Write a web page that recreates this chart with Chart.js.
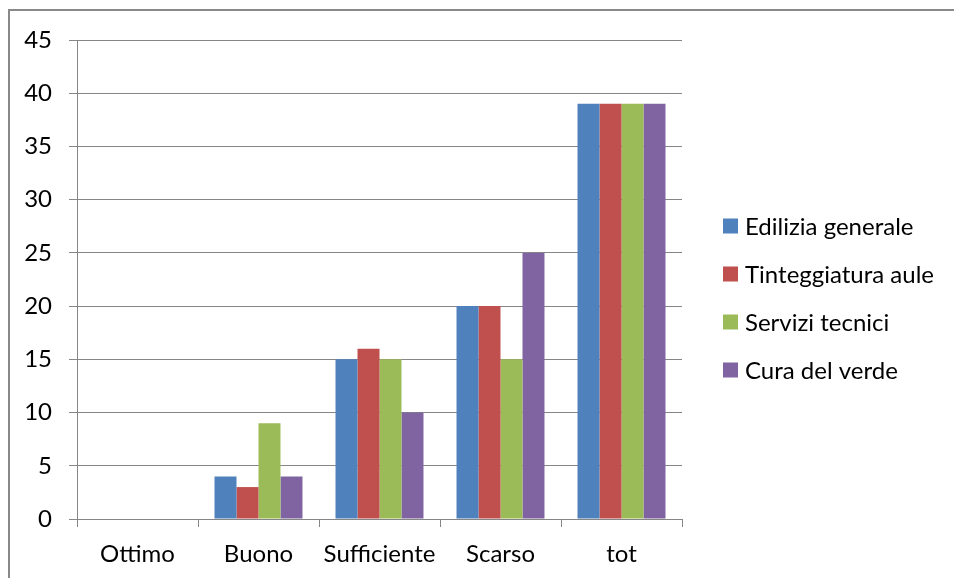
<!DOCTYPE html>
<html>
<head>
<meta charset="utf-8">
<script src="https://cdn.jsdelivr.net/npm/chart.js@4/dist/chart.umd.min.js"></script>
<style>
  html, body { margin: 0; padding: 0; background: #fff; }
  #wrap { width: 954px; height: 578px; position: relative; }
</style>
</head>
<body>
<div id="wrap"><canvas id="chart" width="954" height="578"></canvas></div>
<script>
const categories = ["Ottimo", "Buono", "Sufficiente", "Scarso", "tot"];
const seriesNames = ["Edilizia generale", "Tinteggiatura aule", "Servizi tecnici", "Cura del verde"];
const edilizia = [0, 4, 15, 20, 39];
const tinteggiatura = [0, 3, 16, 20, 39];
const servizi = [0, 9, 15, 15, 39];
const verde = [0, 4, 10, 25, 39];
const colors = ["#4F81BD", "#C0504D", "#9BBB59", "#8064A2"];

const gridColor = "#868686";
const font = { family: "Lato", size: 24 };

// outer frame like the office chart border
const framePlugin = {
  id: "frame",
  beforeDraw(chart) {
    const ctx = chart.ctx;
    ctx.save();
    ctx.fillStyle = "#fff";
    ctx.fillRect(0, 0, chart.width, chart.height);
    ctx.strokeStyle = "#898989";
    ctx.lineWidth = 2;
    ctx.strokeRect(9, 10, 2000, 2000);
    ctx.restore();
  }
};

// legend on the right, drawn by hand so it sits where the original one is
const sideLegend = {
  id: "sideLegend",
  afterDraw(chart) {
    const ctx = chart.ctx;
    const area = chart.chartArea;
    ctx.save();
    ctx.font = font.size + "px " + font.family;
    ctx.textBaseline = "middle";
    ctx.fillStyle = "#000";
    chart.data.datasets.forEach((ds, i) => {
      const y = 226 + i * 48;
      const x = area.right + 41;
      ctx.fillStyle = ds.backgroundColor;
      ctx.fillRect(x, y - 7.5, 15, 15);
      ctx.fillStyle = "#000";
      ctx.fillText(ds.label, x + 22, y + 1);
    });
    ctx.restore();
  }
};

const values = [edilizia, tinteggiatura, servizi, verde];

new Chart(document.getElementById("chart").getContext("2d"), {
  type: "bar",
  data: {
    labels: categories,
    datasets: seriesNames.map((name, i) => ({
      label: name,
      data: values[i],
      backgroundColor: colors[i],
      borderWidth: 0,
      categoryPercentage: 0.727,
      barPercentage: 1
    }))
  },
  options: {
    responsive: false,
    animation: false,
    layout: { padding: { left: 0, top: 40, right: 272, bottom: 0 } },
    plugins: {
      legend: { display: false },
      tooltip: { enabled: false }
    },
    scales: {
      x: {
        grid: {
          drawOnChartArea: false,
          drawTicks: true,
          tickLength: 8,
          color: gridColor,
          lineWidth: 1
        },
        border: { color: gridColor, width: 1 },
        ticks: { color: "#000", font, padding: 13, maxRotation: 0 },
        afterFit(scale) { scale.height = 59; }
      },
      y: {
        min: 0,
        max: 45,
        ticks: { stepSize: 5, color: "#000", font, padding: 17 },
        grid: { color: gridColor, lineWidth: 1, tickLength: 8 },
        border: { color: gridColor, width: 1 },
        afterFit(scale) { scale.width = 77; }
      }
    }
  },
  plugins: [framePlugin, sideLegend]
});
</script>
</body>
</html>
